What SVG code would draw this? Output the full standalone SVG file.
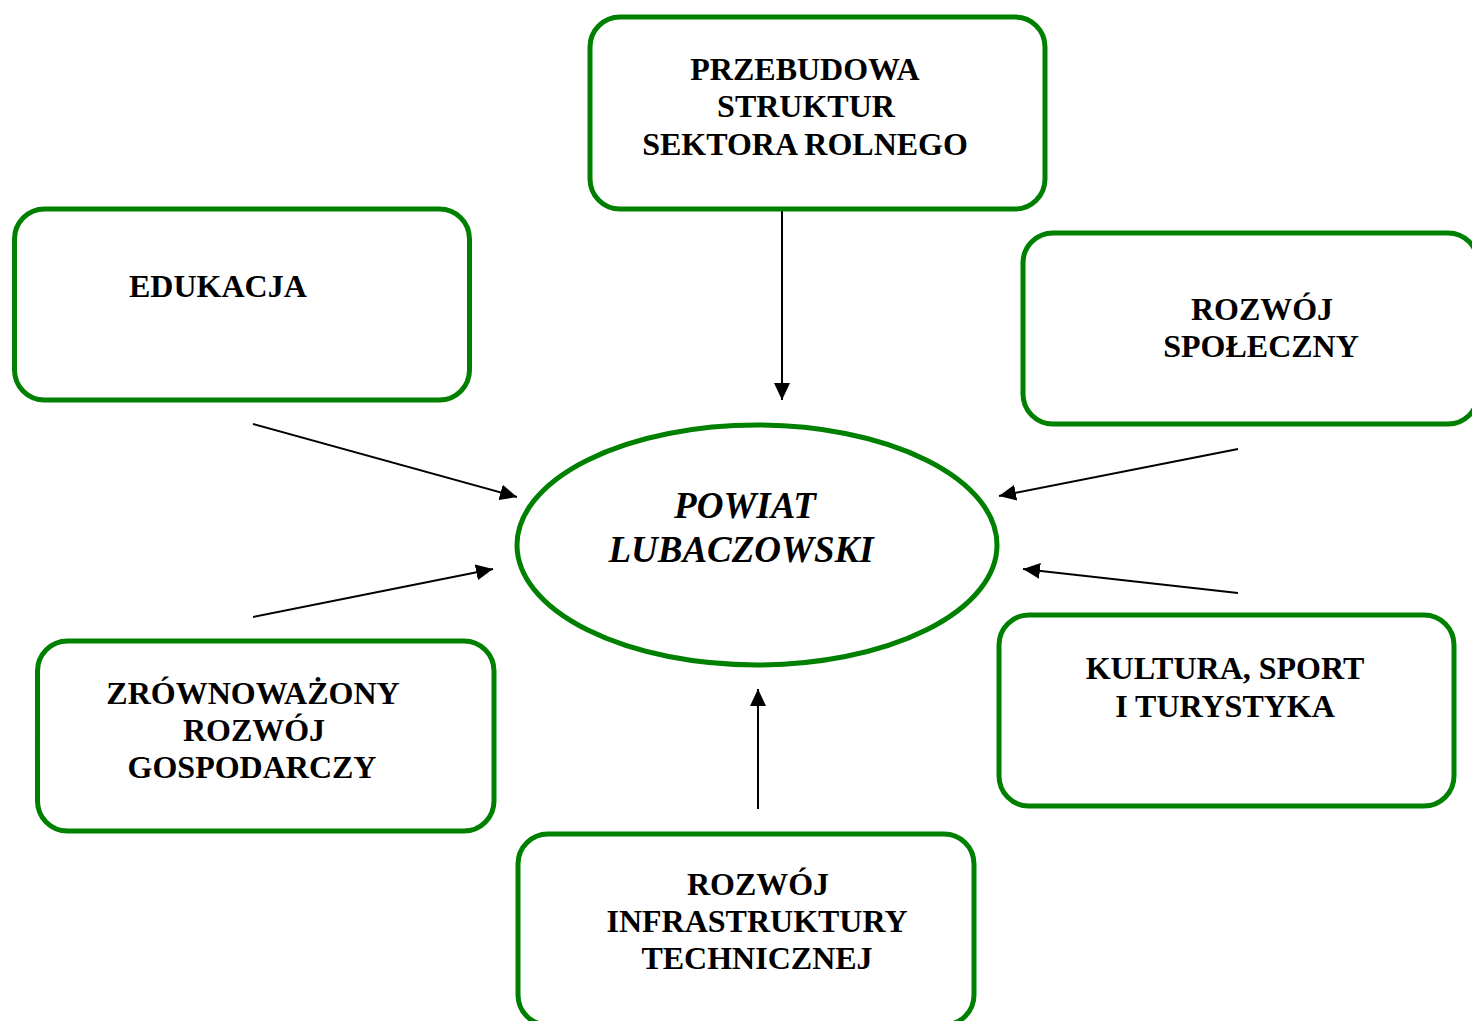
<svg xmlns="http://www.w3.org/2000/svg" width="1472" height="1021" viewBox="0 0 1472 1021">
<defs>
<marker id="arr" markerUnits="userSpaceOnUse" markerWidth="17" markerHeight="16" refX="17" refY="8" orient="auto">
<path d="M0,0 L17,8 L0,16 z" fill="#000"/>
</marker>
<style>
.box{fill:#fff;stroke:#008000;stroke-width:5}
.t{font-family:"Liberation Serif","Times New Roman",serif;font-weight:bold;font-size:32px;fill:#000;text-anchor:middle}
.c{font-family:"Liberation Serif","Times New Roman",serif;font-weight:bold;font-style:italic;font-size:37px;fill:#000;text-anchor:middle}
.ln{stroke:#000;stroke-width:2;fill:none;marker-end:url(#arr)}
</style>
</defs>
<rect width="1472" height="1021" fill="#fff"/>
<g id="connectors">
<line class="ln" x1="782" y1="210" x2="782" y2="400"/>
<line class="ln" x1="253" y1="424" x2="517" y2="497"/>
<line class="ln" x1="253" y1="617" x2="493" y2="569"/>
<line class="ln" x1="1238" y1="449" x2="999" y2="496"/>
<line class="ln" x1="1238" y1="593" x2="1023" y2="569"/>
<line class="ln" x1="758" y1="809" x2="758" y2="689"/>
</g>
<g id="center">
<ellipse class="box" cx="757" cy="545" rx="240" ry="120"/>
<text class="c" x="745" y="518">POWIAT</text>
<text class="c" x="741" y="562">LUBACZOWSKI</text>
</g>
<g id="rolnictwo">
<rect class="box" x="590" y="17" width="455" height="192" rx="30"/>
<text class="t" x="805" y="80">PRZEBUDOWA</text>
<text class="t" x="806" y="117">STRUKTUR</text>
<text class="t" x="805" y="155">SEKTORA ROLNEGO</text>
</g>
<g id="edukacja">
<rect class="box" x="14.5" y="209" width="455" height="191" rx="30"/>
<text class="t" x="129" y="297" style="text-anchor:start">EDUKACJA</text>
</g>
<g id="spoleczny">
<rect class="box" x="1023" y="233" width="455" height="191" rx="30"/>
<text class="t" x="1262" y="320">ROZWÓJ</text>
<text class="t" x="1261" y="357">SPOŁECZNY</text>
</g>
<g id="gospodarczy">
<rect class="box" x="37.5" y="641" width="456.5" height="190" rx="30"/>
<text class="t" x="253" y="704">ZRÓWNOWAŻONY</text>
<text class="t" x="254" y="741">ROZWÓJ</text>
<text class="t" x="252" y="778">GOSPODARCZY</text>
</g>
<g id="kultura">
<rect class="box" x="999" y="615" width="455" height="191" rx="30"/>
<text class="t" x="1225" y="679">KULTURA, SPORT</text>
<text class="t" x="1225" y="717">I TURYSTYKA</text>
</g>
<g id="infrastruktura">
<rect class="box" x="518" y="834" width="456" height="191" rx="30"/>
<text class="t" x="758" y="895">ROZWÓJ</text>
<text class="t" x="757" y="932">INFRASTRUKTURY</text>
<text class="t" x="757" y="969">TECHNICZNEJ</text>
</g>
</svg>
